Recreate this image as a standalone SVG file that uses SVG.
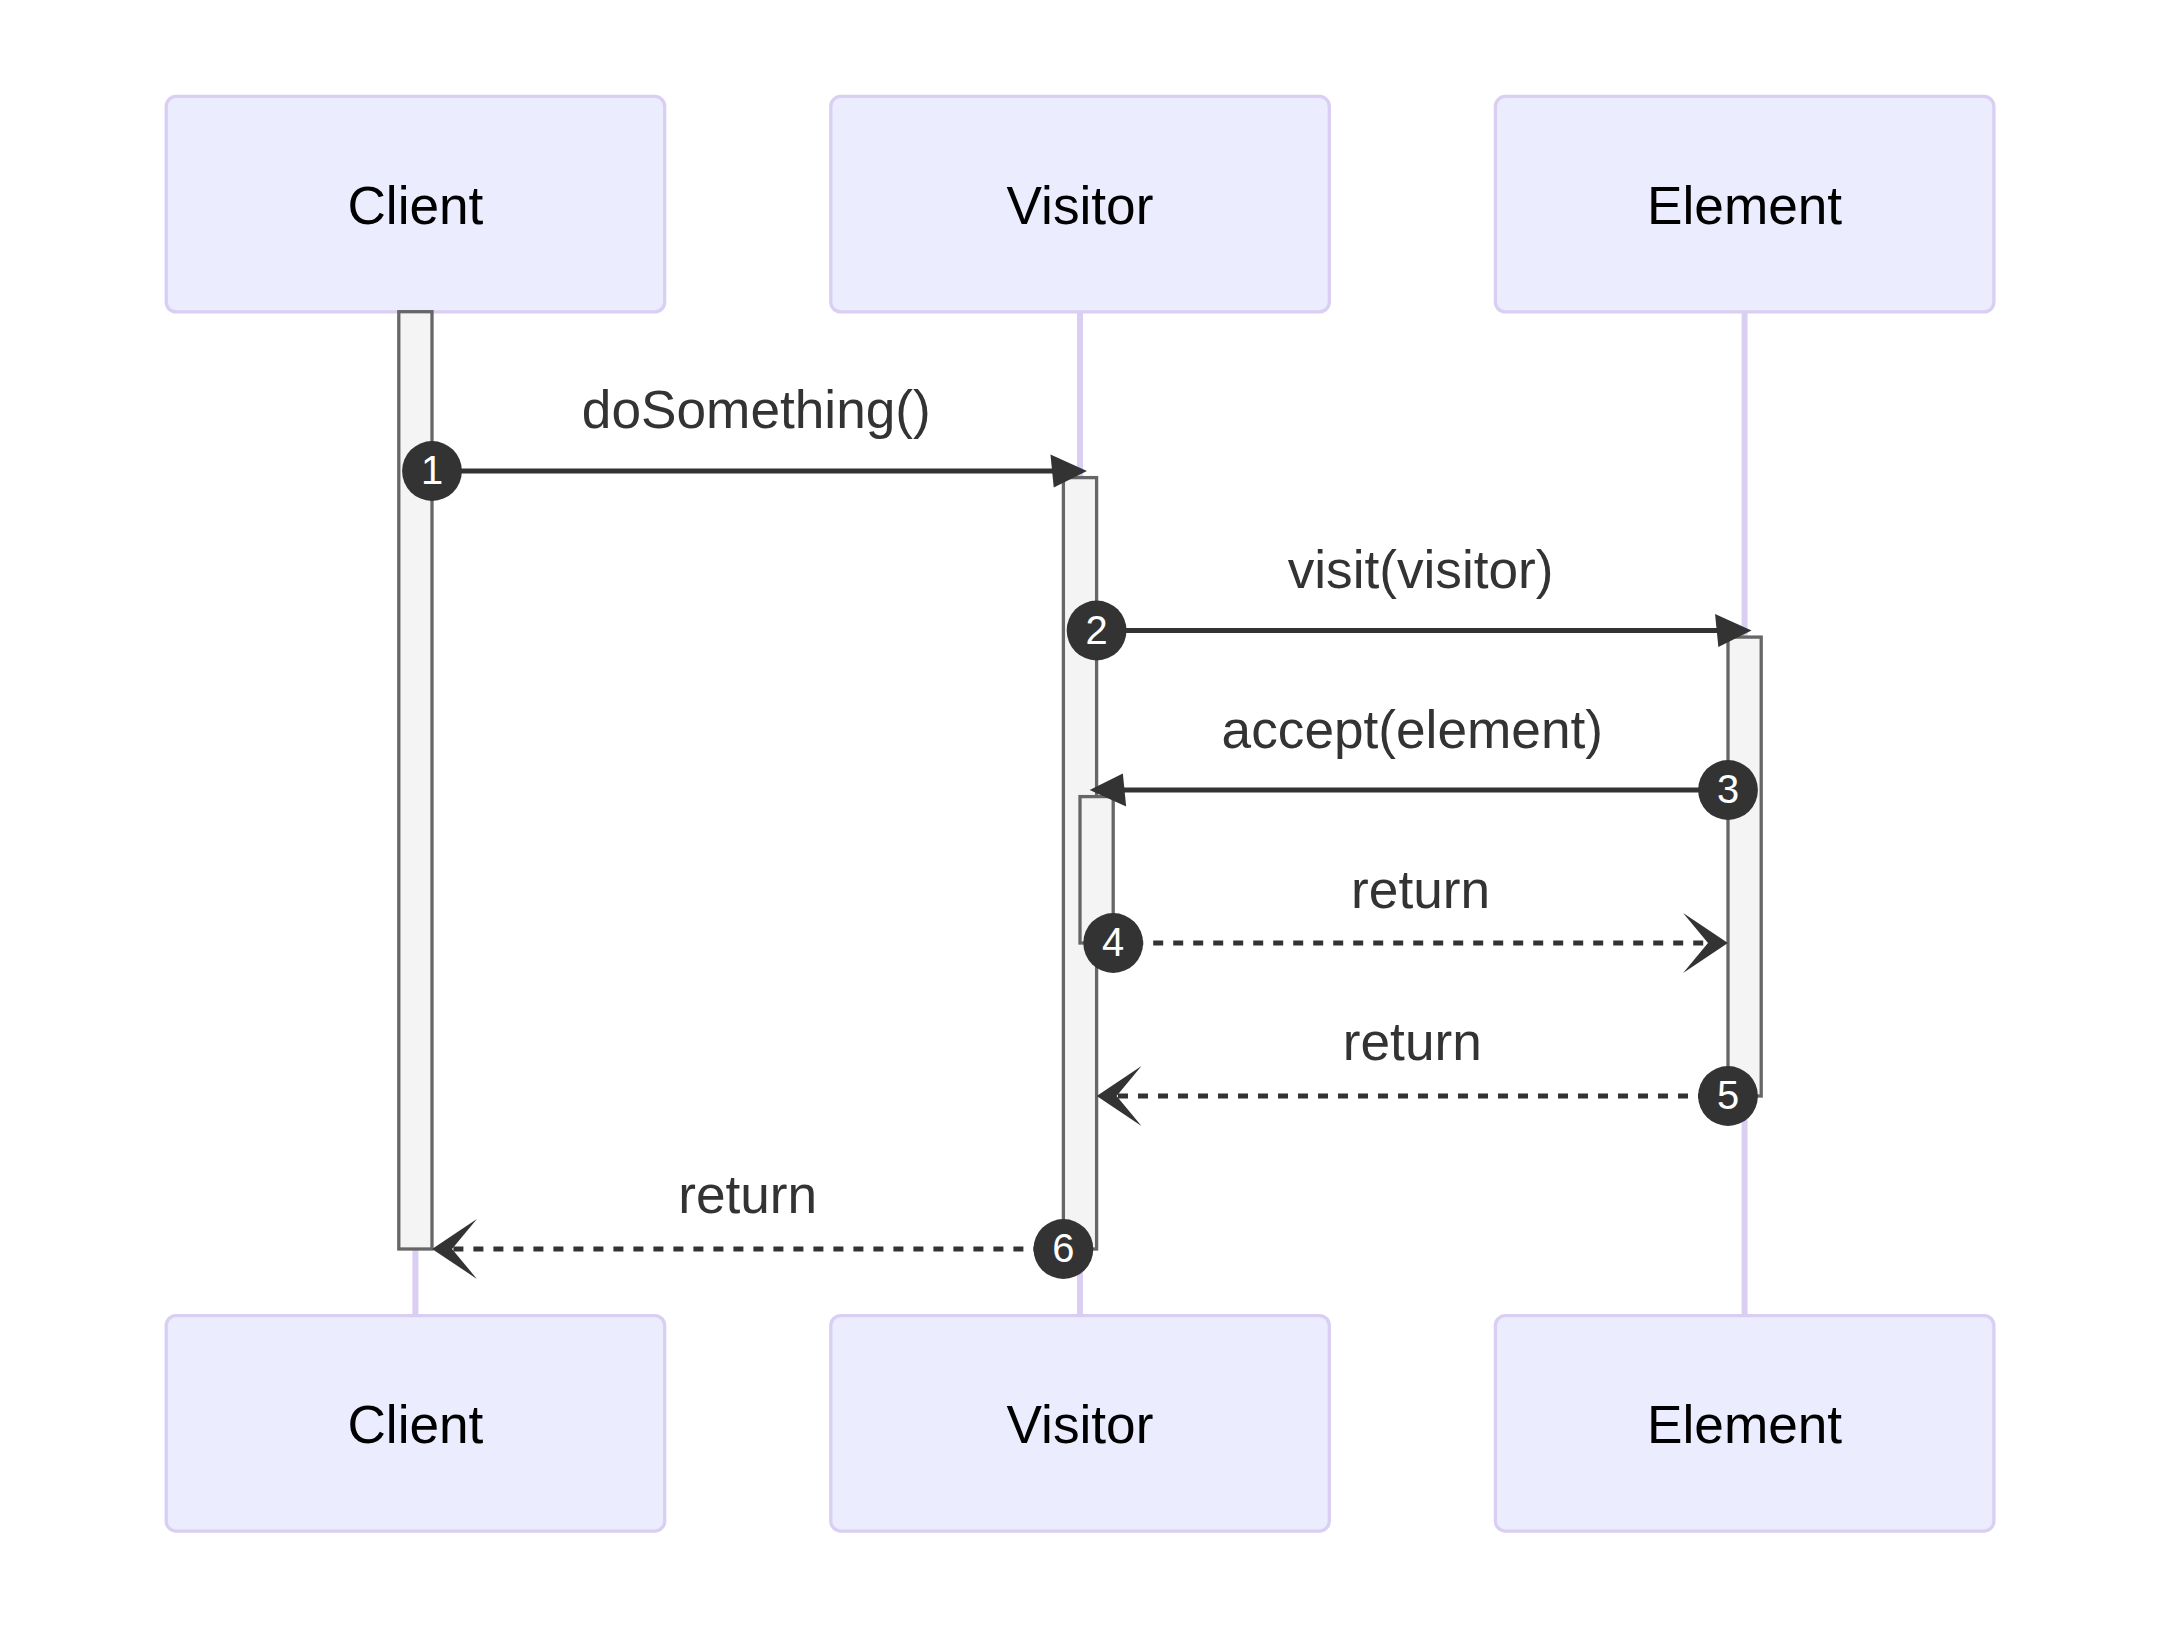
<svg xmlns="http://www.w3.org/2000/svg" width="2160" height="1631" viewBox="0 0 2160 1631">
<style>
.actor{fill:#ECECFF;stroke:#DACEF3;stroke-width:3.3}
.actorText{font-family:"Liberation Sans",Arial,sans-serif;font-size:53.2px;fill:#000;text-anchor:middle}
.lifeline{stroke:#DACEF3;stroke-width:6}
.act{fill:#F4F4F4;stroke:#666;stroke-width:3.3}
.msg{stroke:#333;stroke-width:5;fill:none}
.dotted{stroke-dasharray:10 10}
.msgText{font-family:"Liberation Sans",Arial,sans-serif;font-size:53.2px;fill:#333;text-anchor:middle}
.seq{fill:#333}
.seqText{font-family:"Liberation Sans",Arial,sans-serif;font-size:39.9px;fill:#fff;text-anchor:middle}
</style>
<defs>
<marker id="arrowhead" markerUnits="userSpaceOnUse" refX="26.25" refY="16.6" markerWidth="40" markerHeight="40" orient="auto" overflow="visible">
<path d="M -3.3 0 L 33.2 16.6 L 0 33.2 z" fill="#333"/>
</marker>
<marker id="openhead" markerUnits="userSpaceOnUse" refX="77.3" refY="34.9" markerWidth="100" markerHeight="70" orient="auto" overflow="visible">
<path d="M 89.7 34.9 L 44.9 64.8 L 69.8 34.9 L 44.9 5 Z" fill="#333"/>
</marker>
</defs>
<rect width="2160" height="1631" fill="#fff"/>
<g id="lifelines">
<line class="lifeline" x1="415.4" y1="312" x2="415.4" y2="1316"/>
<line class="lifeline" x1="1080" y1="312" x2="1080" y2="1316"/>
<line class="lifeline" x1="1744.6" y1="312" x2="1744.6" y2="1316"/>
</g>
<g id="client-top"><rect class="actor" x="166.2" y="96.4" width="498.5" height="215.5" rx="10" ry="10"/><text class="actorText" x="415.4" y="223.5">Client</text></g>
<g id="visitor-top"><rect class="actor" x="830.8" y="96.4" width="498.5" height="215.5" rx="10" ry="10"/><text class="actorText" x="1080" y="223.5">Visitor</text></g>
<g id="element-top"><rect class="actor" x="1495.4" y="96.4" width="498.5" height="215.5" rx="10" ry="10"/><text class="actorText" x="1744.6" y="223.5">Element</text></g>
<g id="client-bottom"><rect class="actor" x="166.2" y="1315.6" width="498.5" height="215.5" rx="10" ry="10"/><text class="actorText" x="415.4" y="1443">Client</text></g>
<g id="visitor-bottom"><rect class="actor" x="830.8" y="1315.6" width="498.5" height="215.5" rx="10" ry="10"/><text class="actorText" x="1080" y="1443">Visitor</text></g>
<g id="element-bottom"><rect class="actor" x="1495.4" y="1315.6" width="498.5" height="215.5" rx="10" ry="10"/><text class="actorText" x="1744.6" y="1443">Element</text></g>
<g id="activations">
<rect id="act-client" class="act" x="398.8" y="311.7" width="33.2" height="937.3"/>
<rect id="act-visitor" class="act" x="1063.4" y="477.6" width="33.2" height="771.4"/>
<rect id="act-visitor-nested" class="act" x="1080" y="796.6" width="33.2" height="146.4"/>
<rect id="act-element" class="act" x="1728" y="637.1" width="33.2" height="458.9"/>
</g>
<g id="connectors">
<text class="msgText" x="756.3" y="428.3">doSomething()</text>
<line class="msg" x1="432" y1="471" x2="1080" y2="471" marker-end="url(#arrowhead)"/>
<circle class="seq" cx="432" cy="471" r="29.9"/><text class="seqText" x="432" y="484.3">1</text>

<text class="msgText" x="1420.6" y="588">visit(visitor)</text>
<line class="msg" x1="1096.6" y1="630.5" x2="1744.6" y2="630.5" marker-end="url(#arrowhead)"/>
<circle class="seq" cx="1096.6" cy="630.5" r="29.9"/><text class="seqText" x="1096.6" y="643.8">2</text>

<text class="msgText" x="1412.3" y="747.5">accept(element)</text>
<line class="msg" x1="1728" y1="790" x2="1096.6" y2="790" marker-end="url(#arrowhead)"/>
<circle class="seq" cx="1728" cy="790" r="29.9"/><text class="seqText" x="1728" y="803.3">3</text>

<text class="msgText" x="1420.6" y="907.5">return</text>
<line class="msg dotted" x1="1113.2" y1="943" x2="1715.5" y2="943" marker-end="url(#openhead)"/>
<circle class="seq" cx="1113.2" cy="943" r="29.9"/><text class="seqText" x="1113.2" y="956.3">4</text>

<text class="msgText" x="1412.3" y="1060">return</text>
<line class="msg dotted" x1="1728" y1="1096" x2="1109.1" y2="1096" marker-end="url(#openhead)"/>
<circle class="seq" cx="1728" cy="1096" r="29.9"/><text class="seqText" x="1728" y="1109.3">5</text>

<text class="msgText" x="747.7" y="1213">return</text>
<line class="msg dotted" x1="1063.4" y1="1249" x2="444.5" y2="1249" marker-end="url(#openhead)"/>
<circle class="seq" cx="1063.4" cy="1249" r="29.9"/><text class="seqText" x="1063.4" y="1262.3">6</text>
</g>
</svg>
